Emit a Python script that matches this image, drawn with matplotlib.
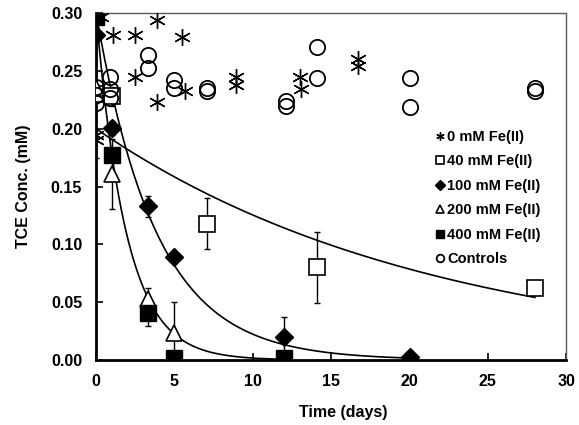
import numpy as np
import matplotlib.pyplot as plt

plt.rcParams['font.family'] = ['Liberation Sans', 'DejaVu Sans']
plt.rcParams['font.weight'] = 'bold'

# 0 mM Fe(II)
t0 = [0, 0, 0.3, 1.1, 2.5, 2.5, 3.9, 3.9, 5.5, 5.7, 8.9, 8.9, 13.0, 13.1, 16.7, 16.7]
c0 = [0.195, 0.190, 0.297, 0.281, 0.281, 0.245, 0.294, 0.223, 0.279, 0.233,
      0.245, 0.238, 0.245, 0.234, 0.260, 0.254]

# controls
tc = [0, 0, 0, 0.9, 0.9, 0.9, 3.3, 3.3, 5.0, 5.0, 7.1, 7.1, 12.1, 12.1,
      14.1, 14.1, 20.0, 20.0, 28.0, 28.0]
cc = [0.236, 0.229, 0.222, 0.245, 0.234, 0.227, 0.264, 0.253, 0.242, 0.235,
      0.235, 0.233, 0.224, 0.220, 0.271, 0.244, 0.244, 0.219, 0.235, 0.233]

# 40 mM Fe(II)
t40 = [0, 1.0, 7.1, 14.1, 28.0]
c40 = [0.230, 0.228, 0.118, 0.080, 0.062]
e40 = [0.008, 0.008, 0.022, 0.031, 0.004]

# 100 mM Fe(II)
t100 = [0, 1.0, 3.3, 5.0, 12.0, 20.0]
c100 = [0.281, 0.201, 0.133, 0.089, 0.020, 0.003]
e100 = [0.004, 0.006, 0.009, 0.002, 0.017, 0.001]

# 200 mM Fe(II)
t200 = [0, 1.0, 3.3, 5.0]
c200 = [0.235, 0.161, 0.053, 0.023]
e200 = [0.06, 0.030, 0.009, 0.027]

# 400 mM Fe(II)
t400 = [0, 1.0, 3.3, 5.0, 12.0]
c400 = [0.297, 0.177, 0.041, 0.002, 0.002]
e400 = [0.003, 0.004, 0.012, 0.001, 0.001]

# first order fits: (C0, k, t_end)
fit40 = (0.200, 0.0467, 28.0)
fit100 = (0.300, 0.26, 20.0)
fit_fast = (0.300, 0.52, 12.0)

fig = plt.figure(figsize=(5.79, 4.25), dpi=100)
ax = fig.add_axes([0.166, 0.153, 0.812, 0.816])

for C0, k, tend in [fit40, fit100, fit_fast]:
    tt = np.linspace(0, tend, 300)
    ax.plot(tt, C0 * np.exp(-k * tt), color='black', lw=1.2, zorder=2)

eb = dict(ecolor='black', elinewidth=1, capsize=2.5, capthick=1, ls='none', zorder=3)
ax.errorbar(t40, c40, yerr=e40, **eb)
ax.errorbar(t100, c100, yerr=e100, **eb)
ax.errorbar(t200, c200, yerr=e200, **eb)
ax.errorbar(t400, c400, yerr=e400, **eb)

ax.plot(t0, c0, ls='none', marker=(6, 2, 0), ms=12, mew=1, color='black', label='0 mM Fe(II)', zorder=4)
ax.plot(t40, c40, ls='none', marker='s', ms=11, mfc='white', mec='black', mew=1.2, label='40 mM Fe(II)', zorder=4)
ax.plot(t100, c100, ls='none', marker='D', ms=9.5, mfc='black', mec='black', label='100 mM Fe(II)', zorder=4)
ax.plot(t200, c200, ls='none', marker='^', ms=11, mfc='white', mec='black', mew=1.2, label='200 mM Fe(II)', zorder=4)
ax.plot(t400, c400, ls='none', marker='s', ms=11, mfc='black', mec='black', label='400 mM Fe(II)', zorder=4)
ax.plot(tc, cc, ls='none', marker='o', ms=11, mfc='none', mec='black', mew=1.3, label='Controls', zorder=4)

ax.set_xlim(0, 30)
ax.set_ylim(0, 0.30)
ax.set_xticks([0, 5, 10, 15, 20, 25, 30])
ax.set_yticks([0, 0.05, 0.10, 0.15, 0.20, 0.25, 0.30])
ax.set_yticklabels(['0.00', '0.05', '0.10', '0.15', '0.20', '0.25', '0.30'])
ax.tick_params(direction='in', length=5, width=1.2, labelsize=11.5, pad=10)
for lab in ax.get_xticklabels() + ax.get_yticklabels():
    lab.set_fontweight('bold')

ax.spines['left'].set_linewidth(2)
ax.spines['bottom'].set_linewidth(2)
for s in ['top', 'right']:
    ax.spines[s].set_linewidth(1)
    ax.spines[s].set_color('0.35')
    ax.spines[s].set_linestyle((0, (1, 1)))

ax.set_xlabel('Time (days)', fontsize=11.5, fontweight='bold', labelpad=12)
ax.xaxis.set_label_coords(0.525, -0.13)
ax.set_ylabel('TCE Conc. (mM)', fontsize=11.5, fontweight='bold', labelpad=14)

leg = ax.legend(loc='upper left', bbox_to_anchor=(0.71, 0.68), frameon=False, fontsize=10.5,
                markerscale=0.5, handlelength=0.6, handletextpad=0.2, labelspacing=0.72,
                borderaxespad=0)
for txt in leg.get_texts():
    txt.set_fontweight('bold')

fig.savefig('out.png', dpi=100)
